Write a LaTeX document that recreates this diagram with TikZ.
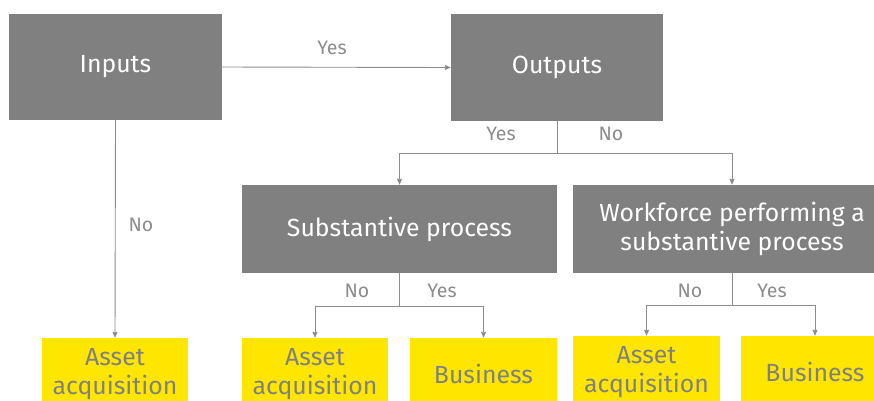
\documentclass[tikz,border=0pt]{standalone}
\usepackage{fontspec}
\setmainfont{Fira Sans}
\usetikzlibrary{arrows.meta}
\definecolor{boxgray}{HTML}{808080}
\definecolor{linegray}{HTML}{8C8C8C}
\definecolor{eyyellow}{HTML}{FFE600}
\begin{document}
\begin{tikzpicture}[
  x=1pt, y=-1pt,
  gbox/.style={rectangle, fill=boxgray, text=white, align=center, inner sep=0pt,
    font=\fontsize{24.8}{29}\selectfont},
  ybox/.style={rectangle, fill=eyyellow, text=boxgray, align=center, inner sep=0pt,
    minimum height=72pt, font=\fontsize{24.8}{29}\selectfont},
  conn/.style={linegray, line width=0.9pt},
  arr/.style={conn, -{Triangle[length=6pt,width=5pt]}},
  lbl/.style={text=linegray, font=\fontsize{19.5}{22}\selectfont}
]
\useasboundingbox (0,0) rectangle (874,400);
\clip (0,0) rectangle (874,400);

% --- decision boxes ---
\node[gbox, minimum width=213pt, minimum height=106pt] (inputs) at (115.5,67) {Inputs};
\node[gbox, minimum width=212pt, minimum height=107pt] (outputs) at (557,67.5) {Outputs};
\node[gbox, minimum width=315pt, minimum height=88pt] (subst) at (399.5,229) {Substantive process};
\node[gbox, minimum width=318pt, minimum height=88pt] (work) at (732,229) {Workforce performing a\\substantive process};

% --- outcomes ---
\node[ybox, minimum width=146pt] (asset1) at (115,374) {Asset\\acquisition};
\node[ybox, minimum width=146pt] (asset2) at (315,374) {Asset\\acquisition};
\node[ybox, minimum width=147pt] (bus2) at (483.5,374) {Business};
\node[ybox, minimum width=147pt] (asset3) at (646.5,372) {Asset\\acquisition};
\node[ybox, minimum width=148pt] (bus3) at (815,372) {Business};

% --- split points ---
\coordinate (osplit) at (557,153);
\coordinate (ssplit) at (399.5,306);
\coordinate (wsplit) at (732,305);

% --- connectors ---
\draw[arr] (inputs.east) -- (outputs.west);
\draw[arr] (inputs.south) -- (asset1.north);
\draw[conn] (outputs.south) -- (osplit);
\draw[arr] (osplit) -| (subst.north);
\draw[arr] (osplit) -| (work.north);
\draw[conn] (subst.south) -- (ssplit);
\draw[arr] (ssplit) -| (asset2.north);
\draw[arr] (ssplit) -| (bus2.north);
\draw[conn] (work.south) -- (wsplit);
\draw[arr] (wsplit) -| (asset3.north);
\draw[arr] (wsplit) -| (bus3.north);

% --- labels ---
\node[lbl] (l1) at (332,48) {Yes};
\node[lbl] (l2) at (141,225) {No};
\node[lbl] (l3) at (501,134) {Yes};
\node[lbl] (l4) at (611,134) {No};
\node[lbl] (l5) at (357,291) {No};
\node[lbl] (l6) at (442,291) {Yes};
\node[lbl] (l7) at (690,291) {No};
\node[lbl] (l8) at (772,291) {Yes};

\end{tikzpicture}
\end{document}
